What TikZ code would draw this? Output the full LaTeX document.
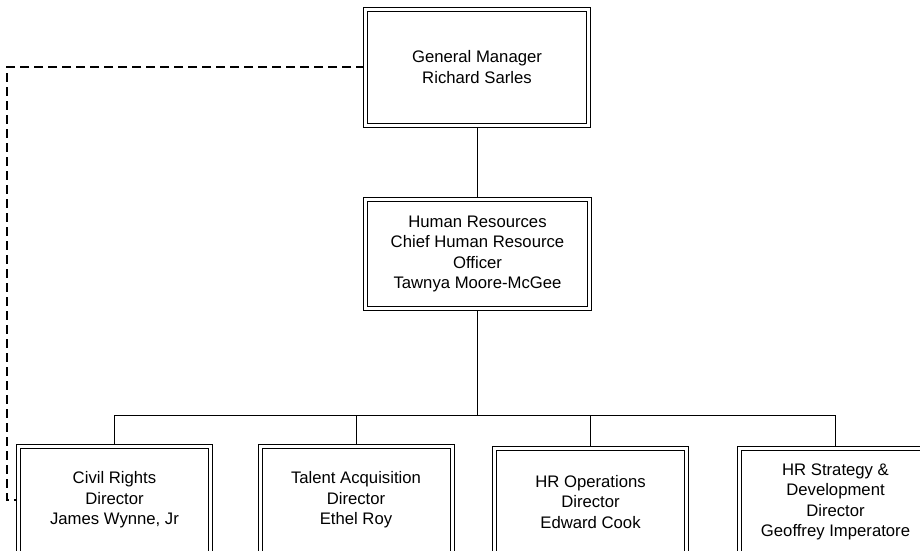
\documentclass[tikz,border=0pt]{standalone}
\usepackage{fontspec}
\setmainfont{Liberation Sans}
\usetikzlibrary{backgrounds}
\begin{document}
\begin{tikzpicture}[x=1pt,y=-1pt,
  orgbox/.style={draw=black, line width=1pt, double=white, double distance=3pt,
    align=center, inner sep=0pt, font=\fontsize{16.7}{20.5}\selectfont},
  headbox/.style={orgbox, minimum width=223pt, minimum height=116pt},
  hrbox/.style={orgbox, minimum width=224pt, minimum height=109pt},
  unitbox/.style={orgbox, minimum width=192pt, minimum height=107pt},
  link/.style={draw=black, line width=1pt},
  dotted link/.style={draw=black, line width=1.2pt, dash pattern=on 9pt off 5pt}]
\useasboundingbox (0,0) rectangle (920,550);
\clip (0,0) rectangle (920,550);

% boxes
\node[headbox] (gm) at (477,67) {General Manager\\Richard Sarles};
\node[hrbox] (hr) at (477.5,254) {Human Resources\\Chief Human Resource\\Officer\\Tawnya Moore-McGee};
\node[unitbox] (cr) at (114.5,500) {Civil Rights\\Director\\James Wynne, Jr};
\node[unitbox] (ta) at (356,500) {Talent Acquisition\\Director\\Ethel Roy};
\node[unitbox] (ops) at (590.5,502) {HR Operations\\Director\\Edward Cook};
\node[unitbox] (sd) at (835.5,502) {HR Strategy \&\\Development\\Director\\Geoffrey Imperatore};

% helper coordinates for the bus and the dotted reporting line
\coordinate (bus) at (0,415);
\coordinate (side) at (7,0);

% connectors, kept beneath the double borders
\begin{pgfonlayer}{background}
  \draw[link] (gm.south) -- (hr.south |- gm.south) -- (hr.north);
  \draw[link] (hr.south) -- (hr.south |- bus);
  \draw[link] (cr.north |- bus) -- (sd.north |- bus);
  \foreach \n in {cr,ta,ops,sd}
    \draw[link] (\n.north |- bus) -- (\n.north);
  \draw[dotted link] (gm.west) -- (gm.west -| side) -- (cr.west -| side) -- (cr.west);
\end{pgfonlayer}
\end{tikzpicture}
\end{document}
